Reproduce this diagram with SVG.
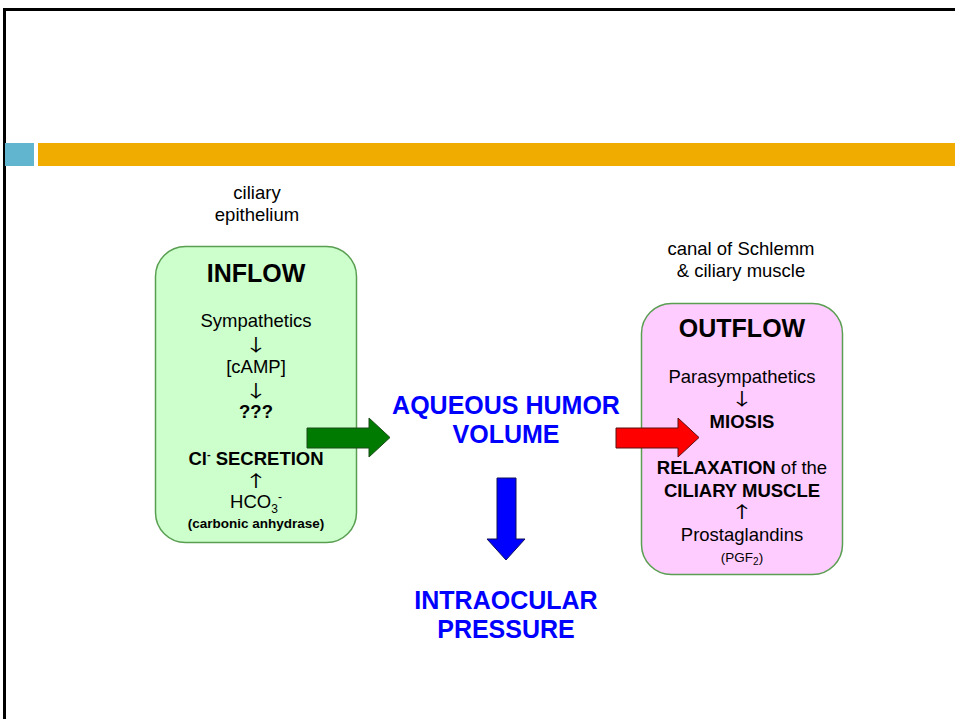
<svg xmlns="http://www.w3.org/2000/svg" width="955" height="719" viewBox="0 0 955 719">
<style>
text{font-family:"Liberation Sans",Arial,sans-serif;text-anchor:middle;fill:#000}
.t{font-size:18.5px}
.b{font-weight:bold}
.h{font-size:25px;font-weight:bold}
.s{font-size:13.5px}
.ar{font-family:"Noto Sans CJK SC","DejaVu Sans",sans-serif;font-size:18px;fill:#000}
.blue{fill:#0000ff}
.box{stroke:#5a9e52;stroke-width:1.5}
</style>
<rect width="955" height="719" fill="#fff"/>
<path d="M4.5 719V9.5H955" fill="none" stroke="#000" stroke-width="3"/>
<rect x="5" y="143" width="29" height="23" fill="#62b5cf"/>
<rect x="38" y="143" width="917" height="23" fill="#f0ad00"/>

<g id="inflow-label">
<text class="t" x="257" y="199">ciliary</text>
<text class="t" x="257" y="221">epithelium</text>
</g>
<g id="inflow">
<rect class="box" x="155.5" y="246.5" width="201" height="296" rx="30" fill="#ccffcc"/>
<text class="h" x="256" y="282">INFLOW</text>
<text class="t" x="256" y="327">Sympathetics</text>
<text class="ar" transform="translate(256,351) scale(1.3,0.95)">↓</text>
<text class="t" x="256" y="373">[cAMP]</text>
<text class="ar" transform="translate(256,397) scale(1.3,0.95)">↓</text>
<text class="t b" x="256" y="418">???</text>
<text class="t b" x="256" y="465">Cl<tspan font-size="11" dy="-7">-</tspan><tspan dy="7"> SECRETION</tspan></text>
<text class="ar" transform="translate(256,487) scale(1.3,0.9)">↑</text>
<text class="t" x="256" y="508">HCO<tspan font-size="12" dy="5">3</tspan><tspan font-size="12" dy="-12">-</tspan></text>
<text class="s b" x="256" y="528">(carbonic anhydrase)</text>
</g>

<g id="outflow-label">
<text class="t" x="741" y="255">canal of Schlemm</text>
<text class="t" x="741" y="277">&amp; ciliary muscle</text>
</g>
<g id="outflow">
<rect class="box" x="641.5" y="303.5" width="201" height="271" rx="30" fill="#ffccff"/>
<text class="h" x="742" y="337">OUTFLOW</text>
<text class="t" x="742" y="383">Parasympathetics</text>
<text class="ar" transform="translate(742,405) scale(1.3,0.95)">↓</text>
<text class="t b" x="742" y="428">MIOSIS</text>
<text class="t" x="742" y="474"><tspan class="b">RELAXATION</tspan> of the</text>
<text class="t b" x="742" y="497">CILIARY MUSCLE</text>
<text class="ar" transform="translate(742,518) scale(1.3,0.9)">↑</text>
<text class="t" x="742" y="541">Prostaglandins</text>
<text class="s" x="742" y="562" font-size="14">(PGF<tspan font-size="10" dy="3">2</tspan><tspan dy="-3">)</tspan></text>
</g>

<g id="aqueous">
<text class="h blue" x="506" y="414">AQUEOUS HUMOR</text>
<text class="h blue" x="506" y="443">VOLUME</text>
</g>
<g id="iop">
<text class="h blue" x="506" y="609">INTRAOCULAR</text>
<text class="h blue" x="506" y="638">PRESSURE</text>
</g>

<g id="connectors" stroke-linejoin="miter">
<polygon points="307,428 369,428 369,418 390,437.5 369,457 369,448 307,448" fill="#007a00" stroke="#1a4d1a" stroke-width="1"/>
<polygon points="616,428 678,428 678,418 699,437.5 678,457 678,448 616,448" fill="#ff0000" stroke="#5a1010" stroke-width="1"/>
<polygon points="497,478 516,478 516,539 525,539 506,560 487,539 497,539" fill="#0000ff" stroke="#10105a" stroke-width="1"/>
</g>
</svg>
